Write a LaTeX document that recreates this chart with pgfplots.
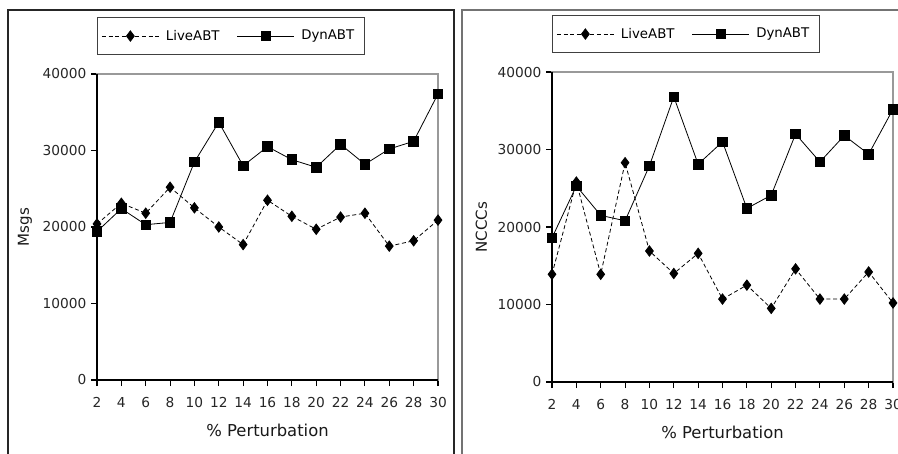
\documentclass[border=0pt]{standalone}
\usepackage{fontspec}
\setmainfont{DejaVu Sans}
\usepackage{pgfplots}
\pgfplotsset{compat=1.18}

% one px of the reference = 0.75pt
\pgfplotsset{
  panel/.style={
    scale only axis,
    width=255.75pt,
    xmin=2, xmax=30, ymin=0, ymax=40000,
    xtick={2,4,...,30},
    ytick={0,10000,20000,30000,40000},
    scaled y ticks=false,
    /pgf/number format/1000 sep={},
    /pgf/number format/assume math mode=true,
    ticklabel style={font=\fontsize{10.3}{12}\selectfont, text=black!85},
    xticklabel style={yshift=-5pt},
    label style={text=black!90},
    xlabel style={font=\fontsize{12.3}{14}\selectfont, yshift=-5pt},
    ylabel style={font=\fontsize{11.3}{13}\selectfont},
    ylabel shift=1pt,
    tick align=outside,
    xtick pos=bottom, ytick pos=left,
    major tick length=4.5pt,
    tick style={black, line width=0.8pt},
    axis line style={black!40, line width=1.1pt},
    clip=false,
    legend style={
      at={(0,1)}, anchor=south west, yshift=14pt,
      draw=black!75, line width=0.8pt,
      legend columns=2,
      font=\fontsize{10}{11}\selectfont,
      inner xsep=3pt, inner ysep=7.5pt,
      /tikz/every even column/.append style={column sep=8pt},
      nodes={inner xsep=5pt},
    },
    legend cell align=left,
    legend image code/.code={
      \draw[mark repeat=2, mark phase=2]
        plot coordinates {(0cm,0cm) (0.75cm,0cm) (1.5cm,0cm)};
    },
  },
  live/.style={black, densely dashed, line width=0.6pt,
    mark=diamond*, mark size=3.9pt, mark options={solid}},
  dyn/.style={black, solid, line width=0.6pt,
    mark=square*, mark size=3.6pt},
}

\begin{document}
\begin{tikzpicture}[x=0.75pt, y=0.75pt]
\useasboundingbox (0,0) rectangle (898,453);
\draw[black!85, line width=1.5pt] (8,443) rectangle (454,-20);
\draw[black!55, line width=1.5pt] (462,443) rectangle (920,-20);

\begin{axis}[panel, height=229.5pt, at={(72.75pt,54.75pt)}, anchor=south west,
  xlabel={\% Perturbation}, ylabel={Msgs}]
\addplot[live] coordinates {
  (2,20400) (4,23100) (6,21800) (8,25200) (10,22500) (12,20000) (14,17700)
  (16,23500) (18,21400) (20,19700) (22,21300) (24,21800) (26,17500)
  (28,18200) (30,20900)};
\addlegendentry{LiveABT}
\addplot[dyn] coordinates {
  (2,19400) (4,22400) (6,20300) (8,20600) (10,28500) (12,33700) (14,28000)
  (16,30500) (18,28800) (20,27800) (22,30800) (24,28200) (26,30200)
  (28,31200) (30,37400)};
\addlegendentry{DynABT}
\draw[black, line width=1.2pt] (rel axis cs:0,1) -- (rel axis cs:0,0) -- (rel axis cs:1,0);
\end{axis}

\begin{axis}[panel, height=232.5pt, at={(414pt,53.25pt)}, anchor=south west,
  xlabel={\% Perturbation}, ylabel={NCCCs}]
\addplot[live] coordinates {
  (2,13900) (4,25800) (6,13900) (8,28300) (10,16900) (12,14000) (14,16600)
  (16,10700) (18,12500) (20,9500) (22,14600) (24,10700) (26,10700)
  (28,14200) (30,10200)};
\addlegendentry{LiveABT}
\addplot[dyn] coordinates {
  (2,18600) (4,25300) (6,21500) (8,20800) (10,27900) (12,36800) (14,28100)
  (16,31000) (18,22400) (20,24100) (22,32000) (24,28400) (26,31800)
  (28,29400) (30,35200)};
\addlegendentry{DynABT}
\draw[black, line width=1.2pt] (rel axis cs:0,1) -- (rel axis cs:0,0) -- (rel axis cs:1,0);
\end{axis}
\end{tikzpicture}
\end{document}
